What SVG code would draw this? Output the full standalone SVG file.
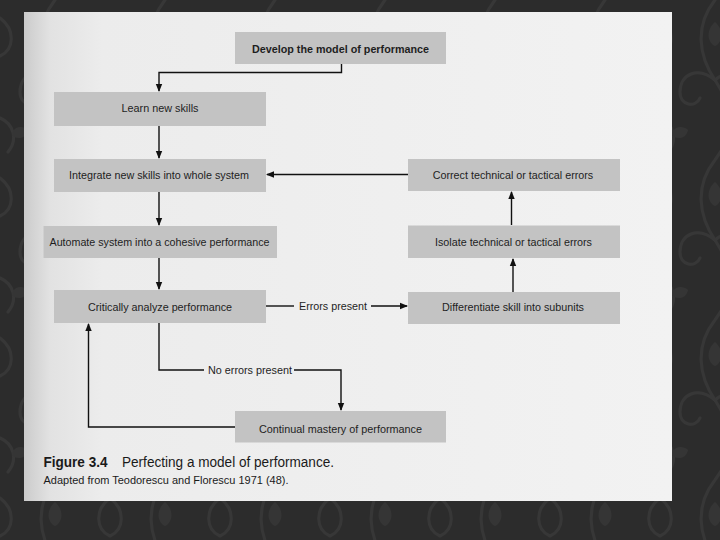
<svg xmlns="http://www.w3.org/2000/svg" width="720" height="540" viewBox="0 0 720 540">
<defs>
<pattern id="damask" width="110" height="160" patternUnits="userSpaceOnUse">
<rect width="110" height="160" fill="#2c2c2c"/>
<g fill="none" stroke="#373737" stroke-width="3" stroke-linecap="round">
<path d="M55 0 C35 25 38 55 55 80 C72 105 75 135 55 160"/>
<path d="M55 80 C38 66 20 74 20 92 C20 106 36 108 40 98"/>
<path d="M55 80 C72 66 90 74 90 92 C90 106 74 108 70 98"/>
<path d="M0 18 C16 30 14 50 0 56"/>
<path d="M110 18 C94 30 96 50 110 56"/>
<path d="M0 118 C14 124 18 140 8 152"/>
<path d="M110 118 C96 124 92 140 102 152"/>
</g>
<g fill="#353535">
<path d="M55 22 C46 30 47 42 55 46 C63 42 64 30 55 22 Z"/>
<path d="M28 130 C20 124 12 128 12 136 C20 140 26 138 28 130 Z"/>
<path d="M82 130 C90 124 98 128 98 136 C90 140 84 138 82 130 Z"/>
</g>
</pattern>
<linearGradient id="page" x1="0" y1="0" x2="1" y2="0">
<stop offset="0" stop-color="#cbcbcb"/>
<stop offset="0.04" stop-color="#e2e2e2"/>
<stop offset="0.12" stop-color="#ececec"/>
<stop offset="1" stop-color="#f2f2f2"/>
</linearGradient>
<marker id="ah" markerWidth="8" markerHeight="8" refX="7" refY="4" orient="auto" markerUnits="userSpaceOnUse">
<path d="M0 0.8 L8 4 L0 7.2 Z" fill="#111"/>
</marker>
<style>
.box{fill:#c3c3c3}
.lbl{font-family:"Liberation Sans",Arial,sans-serif;font-size:11px;fill:#1e1e1e;text-anchor:middle}
.b{font-weight:bold}
.con{fill:none;stroke:#111;stroke-width:1.4}
.cap{font-family:"Liberation Sans",Arial,sans-serif;fill:#1a1a1a}
</style>
</defs>
<rect width="720" height="540" fill="url(#damask)"/>
<rect x="24" y="12" width="648" height="489" fill="url(#page)"/>

<g id="connectors">
<path class="con" d="M341.5 64 V72.5 H159 V91" marker-end="url(#ah)"/>
<path class="con" d="M159 126 V158" marker-end="url(#ah)"/>
<path class="con" d="M159 192 V225" marker-end="url(#ah)"/>
<path class="con" d="M159 258 V289" marker-end="url(#ah)"/>
<path class="con" d="M266 306 H294"/>
<path class="con" d="M371 306 H407" marker-end="url(#ah)"/>
<path class="con" d="M513 292 V259" marker-end="url(#ah)"/>
<path class="con" d="M511.5 225 V192" marker-end="url(#ah)"/>
<path class="con" d="M408 174.5 H267" marker-end="url(#ah)"/>
<path class="con" d="M159 323 V370 H204"/>
<path class="con" d="M294 370 H341 V410" marker-end="url(#ah)"/>
<path class="con" d="M235 427 H88.5 V324" marker-end="url(#ah)"/>
<text class="lbl" x="333" y="309.5" textLength="68" lengthAdjust="spacingAndGlyphs">Errors present</text>
<text class="lbl" x="250" y="373.5" textLength="84" lengthAdjust="spacingAndGlyphs">No errors present</text>
</g>

<g id="develop"><rect class="box" x="235" y="32" width="211" height="32"/><text class="lbl b" x="340.5" y="52.5" textLength="177" lengthAdjust="spacingAndGlyphs">Develop the model of performance</text></g>
<g id="learn"><rect class="box" x="54" y="92" width="212" height="34"/><text class="lbl" x="160" y="112" textLength="77" lengthAdjust="spacingAndGlyphs">Learn new skills</text></g>
<g id="integrate"><rect class="box" x="54" y="159" width="212" height="33"/><text class="lbl" x="159" y="178.5" textLength="180" lengthAdjust="spacingAndGlyphs">Integrate new skills into whole system</text></g>
<g id="automate"><rect class="box" x="43.5" y="226" width="233.5" height="32"/><text class="lbl" x="159.5" y="245.5" textLength="220" lengthAdjust="spacingAndGlyphs">Automate system into a cohesive performance</text></g>
<g id="analyze"><rect class="box" x="54" y="290" width="212" height="33"/><text class="lbl" x="160" y="310.5" textLength="144" lengthAdjust="spacingAndGlyphs">Critically analyze performance</text></g>
<g id="differentiate"><rect class="box" x="408" y="292" width="212" height="32"/><text class="lbl" x="513" y="311" textLength="142" lengthAdjust="spacingAndGlyphs">Differentiate skill into subunits</text></g>
<g id="isolate"><rect class="box" x="408" y="225.5" width="212" height="32.5"/><text class="lbl" x="513.5" y="245.5" textLength="157" lengthAdjust="spacingAndGlyphs">Isolate technical or tactical errors</text></g>
<g id="correct"><rect class="box" x="408" y="159" width="212" height="32"/><text class="lbl" x="513" y="178.5" textLength="160.5" lengthAdjust="spacingAndGlyphs">Correct technical or tactical errors</text></g>
<g id="mastery"><rect class="box" x="235" y="411" width="211" height="31.5"/><text class="lbl" x="340.5" y="432.5" textLength="163" lengthAdjust="spacingAndGlyphs">Continual mastery of performance</text></g>

<g id="caption">
<text class="cap" x="43.5" y="467" font-size="14" font-weight="bold" textLength="64" lengthAdjust="spacingAndGlyphs">Figure 3.4</text>
<text class="cap" x="122" y="467" font-size="14" textLength="212" lengthAdjust="spacingAndGlyphs">Perfecting a model of performance.</text>
<text class="cap" x="43.5" y="483.5" font-size="10.5" textLength="245" lengthAdjust="spacingAndGlyphs">Adapted from Teodorescu and Florescu 1971 (48).</text>
</g>
</svg>
